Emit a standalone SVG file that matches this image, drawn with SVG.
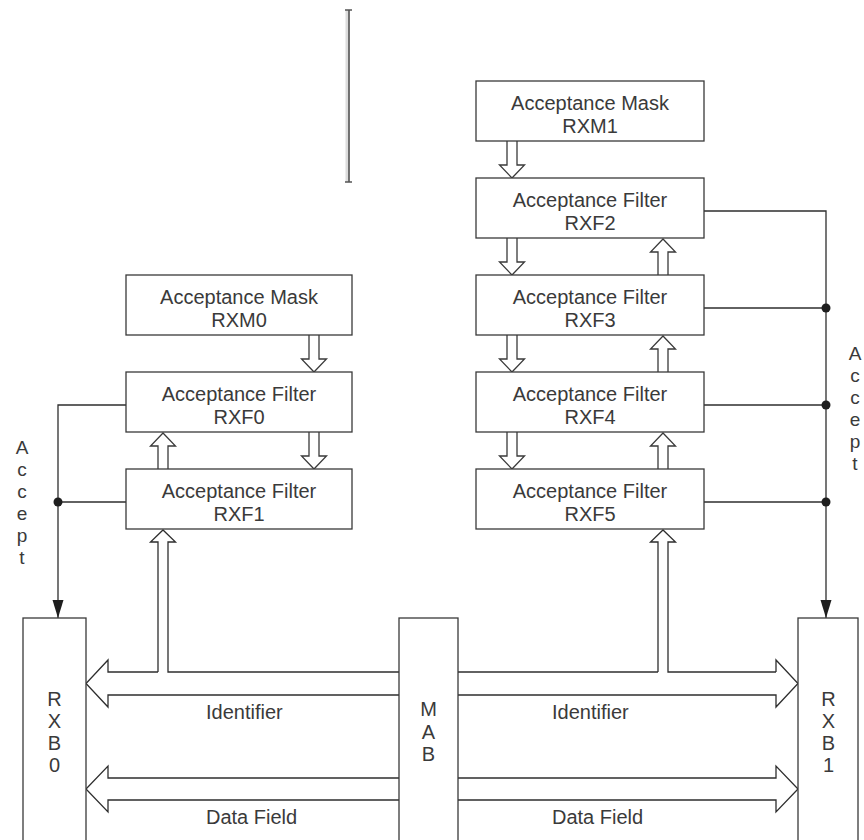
<svg xmlns="http://www.w3.org/2000/svg" xmlns:xlink="http://www.w3.org/1999/xlink" width="864" height="840" viewBox="0 0 864 840">
  <style>
    .box { fill: #ffffff; stroke: #3a3a3a; stroke-width: 1.3; }
    .wire { fill: none; stroke: #2e2e2e; stroke-width: 1.3; }
    .hollow { fill: #ffffff; stroke: #3a3a3a; stroke-width: 1.3; }
    .lbl { font-family: "Liberation Sans", Arial, Helvetica, sans-serif; font-size: 20px; fill: #3a3a3a; text-anchor: middle; }
    .bus { font-family: "Liberation Sans", Arial, Helvetica, sans-serif; font-size: 20px; fill: #3a3a3a; text-anchor: start; }
    .acc { font-family: "Liberation Sans", Arial, Helvetica, sans-serif; font-size: 19px; fill: #3a3a3a; text-anchor: middle; }
    .dot { fill: #1e1e1e; }
  </style>
  <defs>
    <marker id="solidHead" markerUnits="userSpaceOnUse" markerWidth="18" markerHeight="12" refX="18" refY="6" orient="auto">
      <path d="M0,0.5 L18,6 L0,11.5 z" fill="#1e1e1e"/>
    </marker>
    <!-- hollow block arrows, tip at (0,0) -->
    <path id="blockDown" d="M-5,-37 V-13 H-12.5 L0,0 L12.5,-13 H5 V-37"/>
    <path id="blockUp" d="M-5,36 V13 H-12.5 L0,0 L12.5,13 H5 V36"/>
  </defs>

  <rect width="864" height="840" fill="#ffffff"/>

  <!-- stray bracket at the top -->
  <g id="bracket">
    <rect x="345.5" y="10" width="3" height="172" fill="#dcdcdc"/>
    <line x1="349" y1="10" x2="349" y2="182" stroke="#444" stroke-width="1.5"/>
    <line x1="345" y1="10" x2="352" y2="10" stroke="#555" stroke-width="1.5"/>
    <line x1="345" y1="182" x2="352" y2="182" stroke="#555" stroke-width="1.5"/>
  </g>

  <!-- connectors -->
  <g id="connectors">
    <!-- accept line to RXB0 -->
    <polyline class="wire" points="126,405 58,405 58,618" marker-end="url(#solidHead)"/>
    <line class="wire" x1="58" y1="502" x2="126" y2="502"/>
    <circle class="dot" cx="58" cy="502" r="4.5"/>

    <!-- accept line to RXB1 -->
    <polyline class="wire" points="704,211 826,211 826,618" marker-end="url(#solidHead)"/>
    <line class="wire" x1="704" y1="308" x2="826" y2="308"/>
    <line class="wire" x1="704" y1="405" x2="826" y2="405"/>
    <line class="wire" x1="704" y1="502" x2="826" y2="502"/>
    <circle class="dot" cx="826" cy="308" r="4.5"/>
    <circle class="dot" cx="826" cy="405" r="4.5"/>
    <circle class="dot" cx="826" cy="502" r="4.5"/>

    <!-- mask / filter chain, right column -->
    <use xlink:href="#blockDown" href="#blockDown" class="hollow" x="512" y="178"/>
    <use xlink:href="#blockDown" href="#blockDown" class="hollow" x="512" y="275"/>
    <use xlink:href="#blockDown" href="#blockDown" class="hollow" x="512" y="372"/>
    <use xlink:href="#blockDown" href="#blockDown" class="hollow" x="512" y="469"/>
    <use xlink:href="#blockUp" href="#blockUp" class="hollow" x="663" y="239"/>
    <use xlink:href="#blockUp" href="#blockUp" class="hollow" x="663" y="336"/>
    <use xlink:href="#blockUp" href="#blockUp" class="hollow" x="663" y="433"/>

    <!-- mask / filter chain, left column -->
    <use xlink:href="#blockDown" href="#blockDown" class="hollow" x="314" y="372"/>
    <use xlink:href="#blockDown" href="#blockDown" class="hollow" x="314" y="469"/>
    <use xlink:href="#blockUp" href="#blockUp" class="hollow" x="163" y="433"/>

    <!-- identifier bus, left -->
    <path class="wire" d="M158,672 V542 H150.5 L163,530 L175.5,542 H168 V672 H399"/>
    <path class="wire" d="M158,672 H108 V660 L86,683.5 L108,707 V695 H399"/>
    <!-- identifier bus, right -->
    <path class="wire" d="M658,672 V542 H650.5 L663,530 L675.5,542 H668 V672 H776"/>
    <path class="wire" d="M658,672 H458"/>
    <path class="wire" d="M776,672 V660 L798,683.5 L776,707 V695 H458"/>

    <!-- data field bus -->
    <path class="wire" d="M399,778 H108 V766 L86,789 L108,812 V800 H399"/>
    <path class="wire" d="M458,778 H776 V766 L798,789 L776,812 V800 H458"/>
  </g>

  <!-- left column -->
  <g id="RXM0">
    <rect class="box" x="126" y="275" width="226" height="60"/>
    <text class="lbl" x="239" y="304">Acceptance Mask</text>
    <text class="lbl" x="239" y="327">RXM0</text>
  </g>
  <g id="RXF0">
    <rect class="box" x="126" y="372" width="226" height="60"/>
    <text class="lbl" x="239" y="401">Acceptance Filter</text>
    <text class="lbl" x="239" y="424">RXF0</text>
  </g>
  <g id="RXF1">
    <rect class="box" x="126" y="469" width="226" height="60"/>
    <text class="lbl" x="239" y="498">Acceptance Filter</text>
    <text class="lbl" x="239" y="521">RXF1</text>
  </g>

  <!-- right column -->
  <g id="RXM1">
    <rect class="box" x="476" y="81" width="228" height="60"/>
    <text class="lbl" x="590" y="110">Acceptance Mask</text>
    <text class="lbl" x="590" y="133">RXM1</text>
  </g>
  <g id="RXF2">
    <rect class="box" x="476" y="178" width="228" height="60"/>
    <text class="lbl" x="590" y="207">Acceptance Filter</text>
    <text class="lbl" x="590" y="230">RXF2</text>
  </g>
  <g id="RXF3">
    <rect class="box" x="476" y="275" width="228" height="60"/>
    <text class="lbl" x="590" y="304">Acceptance Filter</text>
    <text class="lbl" x="590" y="327">RXF3</text>
  </g>
  <g id="RXF4">
    <rect class="box" x="476" y="372" width="228" height="60"/>
    <text class="lbl" x="590" y="401">Acceptance Filter</text>
    <text class="lbl" x="590" y="424">RXF4</text>
  </g>
  <g id="RXF5">
    <rect class="box" x="476" y="469" width="228" height="60"/>
    <text class="lbl" x="590" y="498">Acceptance Filter</text>
    <text class="lbl" x="590" y="521">RXF5</text>
  </g>

  <!-- buffers -->
  <g id="RXB0">
    <rect class="box" x="23" y="618" width="63" height="240"/>
    <text class="lbl" x="54.5" y="706">R</text>
    <text class="lbl" x="54.5" y="728">X</text>
    <text class="lbl" x="54.5" y="750">B</text>
    <text class="lbl" x="54.5" y="772">0</text>
  </g>
  <g id="MAB">
    <rect class="box" x="399" y="618" width="59" height="240"/>
    <text class="lbl" x="428.5" y="716">M</text>
    <text class="lbl" x="428.5" y="738.5">A</text>
    <text class="lbl" x="428.5" y="761">B</text>
  </g>
  <g id="RXB1">
    <rect class="box" x="798" y="618" width="60" height="240"/>
    <text class="lbl" x="828.5" y="706">R</text>
    <text class="lbl" x="828.5" y="728">X</text>
    <text class="lbl" x="828.5" y="750">B</text>
    <text class="lbl" x="828.5" y="772">1</text>
  </g>

  <!-- bus labels -->
  <g id="bus-labels">
    <text class="bus" x="206" y="719">Identifier</text>
    <text class="bus" x="206" y="824">Data Field</text>
    <text class="bus" x="552" y="719">Identifier</text>
    <text class="bus" x="552" y="824">Data Field</text>
  </g>

  <!-- accept labels -->
  <g id="accept-left">
    <text class="acc" x="22" y="454">A</text>
    <text class="acc" x="22" y="476">c</text>
    <text class="acc" x="22" y="498">c</text>
    <text class="acc" x="22" y="520">e</text>
    <text class="acc" x="22" y="542">p</text>
    <text class="acc" x="22" y="564">t</text>
  </g>
  <g id="accept-right">
    <text class="acc" x="855" y="360">A</text>
    <text class="acc" x="855" y="382">c</text>
    <text class="acc" x="855" y="404">c</text>
    <text class="acc" x="855" y="426">e</text>
    <text class="acc" x="855" y="448">p</text>
    <text class="acc" x="855" y="470">t</text>
  </g>
</svg>
